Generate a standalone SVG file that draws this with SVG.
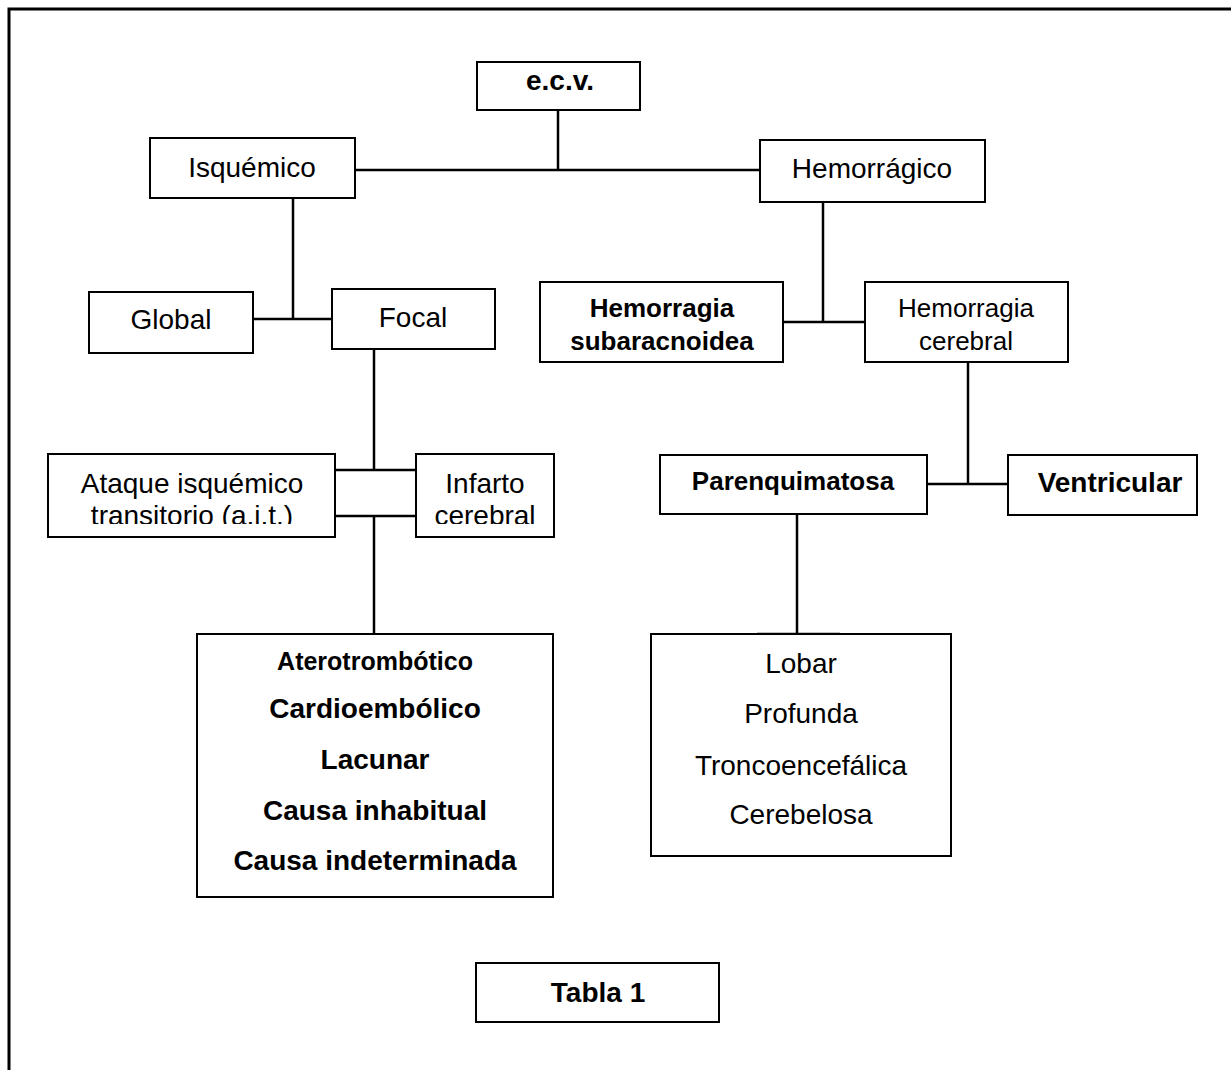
<svg xmlns="http://www.w3.org/2000/svg" width="1231" height="1070" viewBox="0 0 1231 1070">
  <style>
    .box { fill: #fff; stroke: #000; stroke-width: 2; }
    .t { font-family: "Liberation Sans", Arial, sans-serif; font-size: 28px; fill: #000; text-anchor: middle; }
    .b { font-weight: bold; }
    .s26 { font-size: 26px; }
    .conn line { stroke: #000; stroke-width: 2.5; }
  </style>
  <defs>
    <!-- text areas of the two boxes whose second line overflows -->
    <clipPath id="clipAit"><rect x="50" y="455" width="284" height="69"/></clipPath>
    <clipPath id="clipInf"><rect x="417" y="455" width="136" height="69"/></clipPath>
  </defs>
  <rect width="1231" height="1070" fill="#fff"/>
  <!-- page frame -->
  <path d="M9 1070 V9 H1231" fill="none" stroke="#000" stroke-width="3"/>

  <g class="conn" id="connectors">
    <line x1="558" y1="110" x2="558" y2="170"/>
    <line x1="355" y1="170" x2="760" y2="170"/>
    <line x1="293" y1="198" x2="293" y2="319"/>
    <line x1="253" y1="319" x2="332" y2="319"/>
    <line x1="374" y1="349" x2="374" y2="470"/>
    <line x1="335" y1="470" x2="416" y2="470"/>
    <line x1="335" y1="516" x2="416" y2="516"/>
    <line x1="374" y1="516" x2="374" y2="634"/>
    <line x1="823" y1="202" x2="823" y2="322"/>
    <line x1="783" y1="322" x2="865" y2="322"/>
    <line x1="968" y1="362" x2="968" y2="484"/>
    <line x1="927" y1="484" x2="1008" y2="484"/>
    <line x1="797" y1="514" x2="797" y2="634"/>
    <line x1="757" y1="634" x2="840" y2="634"/>
  </g>

  <g id="ecv">
    <rect class="box" x="477" y="62" width="163" height="48"/>
    <text class="t b" x="560" y="90">e.c.v.</text>
  </g>
  <g id="isquemico">
    <rect class="box" x="150" y="138" width="205" height="60"/>
    <text class="t" x="252" y="177">Isquémico</text>
  </g>
  <g id="hemorragico">
    <rect class="box" x="760" y="140" width="225" height="62"/>
    <text class="t" x="872" y="178">Hemorrágico</text>
  </g>
  <g id="global">
    <rect class="box" x="89" y="292" width="164" height="61"/>
    <text class="t" x="171" y="329">Global</text>
  </g>
  <g id="focal">
    <rect class="box" x="332" y="289" width="163" height="60"/>
    <text class="t" x="413" y="327">Focal</text>
  </g>
  <g id="hsa">
    <rect class="box" x="540" y="282" width="243" height="80"/>
    <text class="t b s26" x="662" y="317">Hemorragia</text>
    <text class="t b s26" x="662" y="350">subaracnoidea</text>
  </g>
  <g id="hcerebral">
    <rect class="box" x="865" y="282" width="203" height="80"/>
    <text class="t s26" x="966" y="317">Hemorragia</text>
    <text class="t s26" x="966" y="350">cerebral</text>
  </g>
  <g id="ait">
    <rect class="box" x="48" y="454" width="287" height="83"/>
    <g clip-path="url(#clipAit)">
      <text class="t" x="192" y="493">Ataque isquémico</text>
      <text class="t" x="192" y="525">transitorio (a.i.t.)</text>
    </g>
  </g>
  <g id="infarto">
    <rect class="box" x="416" y="454" width="138" height="83"/>
    <g clip-path="url(#clipInf)">
      <text class="t" x="485" y="493">Infarto</text>
      <text class="t" x="485" y="525">cerebral</text>
    </g>
  </g>
  <g id="parenquimatosa">
    <rect class="box" x="660" y="455" width="267" height="59"/>
    <text class="t b s26" x="793" y="490">Parenquimatosa</text>
  </g>
  <g id="ventricular">
    <rect class="box" x="1008" y="455" width="189" height="60"/>
    <text class="t b" x="1110" y="492">Ventricular</text>
  </g>
  <g id="subtipos-infarto">
    <rect class="box" x="197" y="634" width="356" height="263"/>
    <text class="t b" x="375" y="670" style="font-size:25px">Aterotrombótico</text>
    <text class="t b" x="375" y="718">Cardioembólico</text>
    <text class="t b" x="375" y="769">Lacunar</text>
    <text class="t b" x="375" y="820">Causa inhabitual</text>
    <text class="t b" x="375" y="870">Causa indeterminada</text>
  </g>
  <g id="localizacion">
    <rect class="box" x="651" y="634" width="300" height="222"/>
    <text class="t" x="801" y="673">Lobar</text>
    <text class="t" x="801" y="723">Profunda</text>
    <text class="t" x="801" y="775">Troncoencefálica</text>
    <text class="t" x="801" y="824">Cerebelosa</text>
  </g>
  <g id="tabla1">
    <rect class="box" x="476" y="963" width="243" height="59"/>
    <text class="t b" x="598" y="1002">Tabla 1</text>
  </g>
</svg>
